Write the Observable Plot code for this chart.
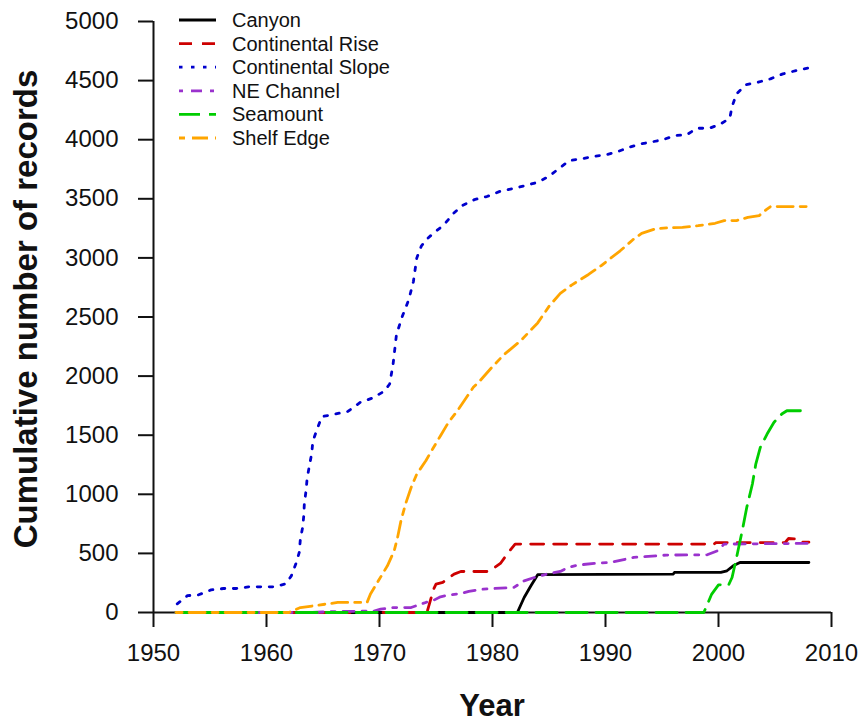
<!DOCTYPE html>
<html><head><meta charset="utf-8">
<script src="https://cdn.jsdelivr.net/npm/d3@7"></script>
<script src="https://cdn.jsdelivr.net/npm/@observablehq/plot@0.6"></script>
<style>body{margin:0;background:#fff} svg{display:block}</style>
</head><body><div id="chart"></div>
<script>
const seriesNames = ["Canyon","Continental Rise","Continental Slope","NE Channel","Seamount","Shelf Edge"];
const seriesColors = ["#000000","#CD0000","#0000CD","#9A32CD","#00CD00","#FFA500"];
const xTicks = [1950,1960,1970,1980,1990,2000,2010];
const yTicks = [0,500,1000,1500,2000,2500,3000,3500,4000,4500,5000];

const canyon = [[1952,0],[1982.2,0],[1982.8,127],[1983.4,226],[1984.0,320],[1996.0,325],[1996.1,339],[2000.2,339],[2000.75,353],[2001.3,395],[2001.9,423],[2008,423]];
const rise = [[1952,0],[1974.2,0],[1974.8,200],[1975.0,240],[1975.6,255],[1976.6,325],[1977.2,347],[1979.7,347],[1980.7,415],[1981.4,508],[1982.0,579],[1999.6,579],[1999.8,592],[2005.9,592],[2006.2,626],[2007.1,621],[2007.3,595],[2008,595]];
const slope = [[1952.1,73],[1953.0,142],[1954.0,150],[1955.1,191],[1956.2,203],[1957.3,203],[1958.4,217],[1959.5,217],[1960.6,217],[1961.7,242],[1962.2,310],[1962.6,412],[1962.9,508],[1963.0,624],[1963.2,720],[1963.3,820],[1963.35,923],[1963.5,1030],[1963.6,1140],[1963.8,1242],[1964.0,1346],[1964.1,1448],[1964.5,1557],[1964.9,1657],[1966.1,1679],[1967.2,1701],[1968.3,1778],[1969.4,1815],[1970.4,1871],[1970.9,1933],[1971.2,2100],[1971.5,2350],[1972.0,2500],[1972.6,2650],[1973.0,2800],[1973.3,3000],[1973.7,3100],[1974.2,3160],[1974.7,3203],[1975.7,3279],[1976.5,3372],[1977.3,3442],[1978.4,3493],[1979.5,3519],[1980.6,3561],[1981.7,3584],[1982.8,3609],[1984.0,3640],[1985.0,3690],[1985.9,3758],[1986.8,3823],[1987.9,3838],[1989.0,3860],[1990.1,3874],[1991.1,3900],[1992.1,3936],[1993.1,3965],[1994.0,3979],[1995.1,4001],[1996.2,4035],[1997.2,4043],[1998.1,4097],[1999.2,4097],[2000.2,4134],[2001.0,4182],[2001.2,4281],[2001.6,4388],[2002.4,4464],[2003.5,4486],[2004.6,4515],[2005.7,4557],[2006.9,4585],[2007.9,4605]];
const neChannel = [[1952,0],[1964,0],[1966,8],[1969.5,12],[1970.1,29],[1971.3,42],[1972.8,42],[1974.1,85],[1974.7,99],[1975.4,133],[1976.3,150],[1977.2,161],[1977.9,178],[1979.2,198],[1981.9,212],[1982.8,268],[1983.7,296],[1984.8,325],[1986.0,347],[1986.7,381],[1987.5,401],[1989.0,415],[1990.4,423],[1992.5,466],[1995.4,486],[1999.0,488],[1999.9,522],[2000.5,579],[2008,585]];
const seamount = [[1952,0],[1998.7,0],[1999.4,156],[2000.0,234],[2000.9,234],[2001.2,296],[2001.6,466],[2002.1,692],[2002.5,889],[2003.0,1087],[2003.3,1256],[2003.7,1397],[2004.3,1510],[2004.9,1608],[2005.6,1679],[2006.05,1707],[2007.25,1707]];
const shelf = [[1952,0],[1962.0,0],[1962.3,14],[1963.0,42],[1964.2,57],[1966.3,85],[1968.9,85],[1969.2,156],[1969.9,268],[1970.7,395],[1971.3,522],[1971.6,635],[1971.9,776],[1972.3,917],[1972.8,1058],[1973.3,1171],[1974.1,1284],[1974.7,1383],[1975.4,1496],[1976.1,1608],[1976.9,1707],[1977.6,1806],[1978.3,1905],[1978.9,1961],[1980.0,2080],[1981.0,2180],[1982.5,2300],[1984.0,2450],[1985.0,2590],[1986.0,2700],[1987.0,2770],[1988.5,2860],[1989.6,2933],[1991.3,3060],[1992.4,3152],[1993.2,3208],[1994.4,3245],[1995.4,3254],[1996.8,3259],[1998.2,3273],[1999.7,3293],[2000.5,3316],[2001.6,3316],[2002.6,3343],[2003.6,3358],[2004.2,3406],[2004.6,3434],[2008.0,3434]];

const seriesData = [canyon, rise, slope, neChannel, seamount, shelf];
const dashes = ["none","13,10","3.5,8.5","4,8,11,8","21,9","6,7,16,7"];
const LW = 2.8;
const font = "'Liberation Sans', Arial, sans-serif";

const lineMarks = seriesData.map((data, i) => Plot.line(data, {
  x: d => d[0], y: d => d[1], stroke: seriesColors[i], strokeWidth: LW,
  strokeDasharray: dashes[i], strokeLinejoin: "round"
}));

const chart = Plot.plot({
  width: 860, height: 726,
  marginLeft: 153, marginRight: 29, marginTop: 21, marginBottom: 114,
  style: {fontFamily: font, background: "white", color: "#111"},
  x: {domain: [1950, 2010]},
  y: {domain: [0, 5000]},
  marks: [
    Plot.axisX({ticks: xTicks, tickSize: 15, tickPadding: 16, fontSize: 24, strokeWidth: 2, tickFormat: d => String(d), label: null}),
    Plot.axisY({ticks: yTicks, tickSize: 15, tickPadding: 20, fontSize: 24, strokeWidth: 2, tickFormat: d => String(d), label: null}),
    Plot.ruleX([1950], {y1: 0, y2: 5000, strokeWidth: 2}),
    Plot.ruleY([0], {x1: 1950, x2: 2010, strokeWidth: 2}),
    ...lineMarks
  ]
});
document.getElementById("chart").appendChild(chart);

const svg = d3.select(chart);
svg.append("text").attr("x", 492).attr("y", 716).attr("text-anchor", "middle")
  .attr("font-family", font).attr("font-weight", "bold").attr("font-size", 31).attr("fill", "#111").text("Year");
svg.append("text").attr("transform", "translate(37,309) rotate(-90)").attr("text-anchor", "middle")
  .attr("font-family", font).attr("font-weight", "bold").attr("font-size", 33).attr("fill", "#111").text("Cumulative number of records");

const lg = svg.append("g").attr("text-anchor", "start");
const legendY = [20, 43.6, 67.2, 90.8, 114.4, 138];
seriesNames.forEach((name, i) => {
  lg.append("line").attr("x1", 179).attr("x2", 216).attr("y1", legendY[i]).attr("y2", legendY[i])
    .attr("stroke", seriesColors[i]).attr("stroke-width", LW)
    .attr("stroke-dasharray", dashes[i]);
  lg.append("text").attr("x", 232).attr("y", legendY[i] + 7).attr("text-anchor", "start").attr("font-family", font)
    .attr("font-size", 20).attr("fill", "#111").text(name);
});
</script>
</body></html>
